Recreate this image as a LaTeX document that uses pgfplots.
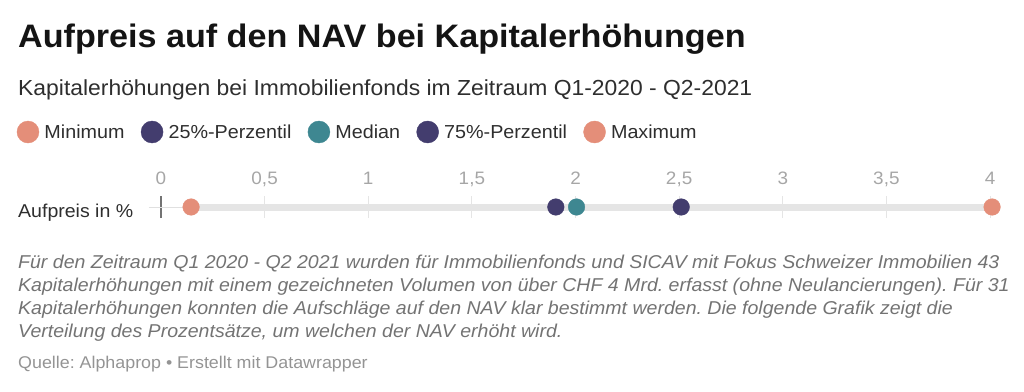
\documentclass[border=0pt]{standalone}
\usepackage{pgfplots}
\pgfplotsset{compat=1.18}
\usepackage{fontspec}
\setmainfont[FakeStretch=1.05]{Liberation Sans}
\definecolor{csalmon}{HTML}{E48E79}
\definecolor{cpurple}{HTML}{433D6E}
\definecolor{cteal}{HTML}{3E8791}
\frenchspacing
\begin{document}
\begin{tikzpicture}[x=1pt,y=1pt]
\useasboundingbox (0,0) rectangle (1024,-391);
\node[anchor=base west, inner sep=0pt, font=\fontsize{32.5}{38}\selectfont\bfseries, text=black!92] at (18,-47) {Aufpreis auf den NAV bei Kapitalerhöhungen};
\node[anchor=base west, inner sep=0pt, font=\fontsize{21.8}{25}\selectfont, text=black!82] at (18,-95) {Kapitalerhöhungen bei Immobilienfonds im Zeitraum Q1-2020 - Q2-2021};
\node[anchor=base west, inner sep=0pt, font=\fontsize{18.6}{23}\selectfont, text=black!82] at (18,-217) {Aufpreis in \%};
\begin{scope}[every node/.style={anchor=base west, inner sep=0pt, font=\fontsize{18.6}{21}\selectfont\itshape, text=black!55}]
\node at (18,-268) {Für den Zeitraum Q1 2020 - Q2 2021 wurden für Immobilienfonds und SICAV mit Fokus Schweizer Immobilien 43};
\node at (18,-291) {Kapitalerhöhungen mit einem gezeichneten Volumen von über CHF 4 Mrd. erfasst (ohne Neulancierungen). Für 31};
\node at (18,-314) {Kapitalerhöhungen konnten die Aufschläge auf den NAV klar bestimmt werden. Die folgende Grafik zeigt die};
\node at (18,-337) {Verteilung des Prozentsätze, um welchen der NAV erhöht wird.};
\end{scope}
\node[anchor=base west, inner sep=0pt, font=\fontsize{17}{20}\selectfont, text=black!42] at (18,-368) {Quelle: Alphaprop • Erstellt mit Datawrapper};
\begin{axis}[
  at={(161pt,-218pt)}, anchor=south west,
  scale only axis, width=829pt, height=22pt,
  xmin=0, xmax=4, ymin=-1, ymax=1, clip=false,
  axis line style={draw=none}, major tick length=0pt,
  xtick={0,0.5,...,4}, ytick=\empty,
  xticklabel pos=upper,
  xmajorgrids, grid style={color=black!10, line width=1pt},
  /pgf/number format/use comma,
  /pgf/number format/assume math mode=true,
  x tick label style={font=\fontsize{18}{20}\selectfont, text=black!35, text depth=0pt, yshift=8pt},
  extra x ticks={0}, extra x tick labels={},
  extra x tick style={grid style={color=black!55, line width=1.2pt}},
  legend columns=-1,
  legend style={draw=none, fill=none, inner sep=0pt, outer sep=0pt,
    at={(-0.1737,3.909)}, anchor=west,
    font=\fontsize{18.8}{23}\selectfont, text=black!82,
    nodes={inner sep=0pt},
    /tikz/every odd column/.append style={column sep=5.5pt},
    /tikz/every even column/.append style={column sep=16.5pt}},
  legend image code/.code={\draw[#1, mark size=11pt] plot[only marks] coordinates {(0pt,0pt)};},
]
\addplot[forget plot, line width=1pt, color=black!12] coordinates {(-0.06,0) (4.0,0)};
\addplot[forget plot, line width=7pt, color=black!10] coordinates {(0.145,0) (4.01,0)};
\addplot[only marks, mark=*, color=csalmon, mark size=8.3pt] coordinates {(0.145,0)};
\addlegendentry{Minimum}
\addplot[only marks, mark=*, color=cpurple, mark size=8.3pt] coordinates {(1.905,0)};
\addlegendentry{25\%-Perzentil}
\addplot[only marks, mark=*, color=cteal, mark size=8.3pt] coordinates {(2.005,0)};
\addlegendentry{Median}
\addplot[only marks, mark=*, color=cpurple, mark size=8.3pt] coordinates {(2.51,0)};
\addlegendentry{75\%-Perzentil}
\addplot[only marks, mark=*, color=csalmon, mark size=8.3pt] coordinates {(4.01,0)};
\addlegendentry{Maximum}
\end{axis}
\end{tikzpicture}
\end{document}
